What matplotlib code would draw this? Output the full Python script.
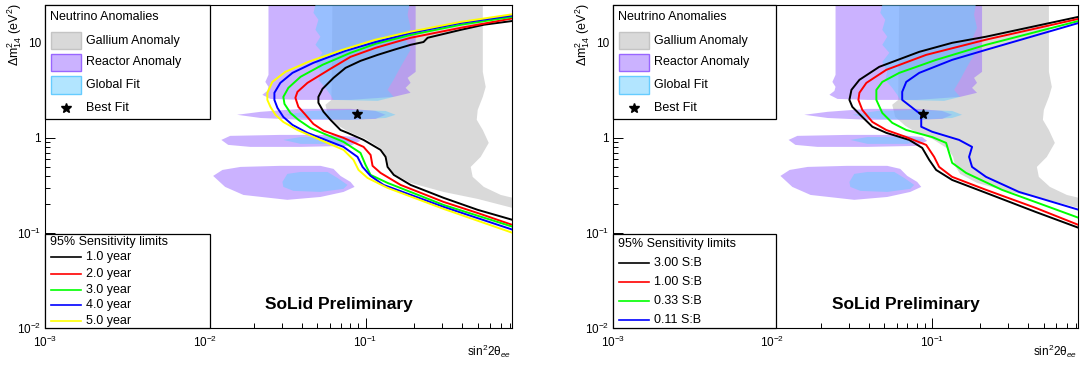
import numpy as np
import matplotlib
matplotlib.use("Agg")
import matplotlib.pyplot as plt
from matplotlib.patches import Polygon, Rectangle
from matplotlib.lines import Line2D
from matplotlib.ticker import FixedLocator, FixedFormatter, LogLocator, NullFormatter

plt.rcParams['font.family'] = ['Liberation Sans', 'DejaVu Sans']
plt.rcParams['mathtext.fontset'] = 'custom'
plt.rcParams['mathtext.rm'] = 'Liberation Sans'
plt.rcParams['mathtext.it'] = 'Liberation Sans:italic'
plt.rcParams['mathtext.bf'] = 'Liberation Sans:bold'
plt.rcParams['mathtext.sf'] = 'Liberation Sans'

# ------------------------------------------------------------------ data
X_MIN, X_MAX = 1e-3, 0.82
Y_MIN, Y_MAX = 1e-2, 25.0

x_tick_vals = [1e-3, 1e-2, 1e-1]
x_tick_labels = [r'$10^{-3}$', r'$10^{-2}$', r'$10^{-1}$']
y_tick_vals = [1e-2, 1e-1, 1.0, 10.0]
y_tick_labels = [r'$10^{-2}$', r'$10^{-1}$', '1', '10']

# Gallium anomaly region
gallium_x = [0.0622, 0.539, 0.539, 0.562, 0.539, 0.501, 0.494, 0.539, 0.587, 0.523, 0.453, 0.466, 0.547, 0.698,
             0.83, 1.0, 1.0, 0.83, 0.501, 0.307, 0.191, 0.1496, 0.1393, 0.1353, 0.1259, 0.1, 0.0783, 0.0678,
             0.0587, 0.0562, 0.0613]
gallium_y = [30, 30, 4.95, 3.44, 2.70, 1.97, 1.55, 1.21, 0.886, 0.631, 0.495, 0.389, 0.305, 0.251,
             0.234, 0.23, 0.18, 0.183, 0.228, 0.270, 0.336, 0.418, 0.508, 0.631, 0.766, 0.976, 1.16, 1.34,
             1.66, 2.23, 2.51]

# Reactor anomaly regions
reactor_top_x = [0.0248, 0.0248, 0.0237, 0.0248, 0.0244, 0.0227, 0.0255, 0.0393, 0.0806, 0.1496, 0.191,
                 0.1778, 0.191, 0.183, 0.2054, 0.2054]
reactor_top_y = [30, 4.60, 3.88, 3.44, 3.12, 2.84, 2.57, 2.51, 2.51, 2.70, 2.98, 3.36, 3.79, 4.28, 4.95, 30]
reactor_b1_x = [0.0158, 0.0221, 0.0393, 0.0806, 0.1155, 0.1334, 0.1155, 0.0806, 0.0393, 0.0221]
reactor_b1_y = [1.75, 1.88, 2.02, 2.02, 1.92, 1.75, 1.585, 1.55, 1.55, 1.62]
reactor_b2_x = [0.0126, 0.0143, 0.0294, 0.0604, 0.0866, 0.093, 0.0806, 0.0393, 0.0191, 0.0139]
reactor_b2_y = [0.952, 1.05, 1.075, 1.075, 1.02, 0.930, 0.824, 0.804, 0.804, 0.844]
reactor_b3_x = [0.0112, 0.0128, 0.0166, 0.0294, 0.0523, 0.0631, 0.0698, 0.0806, 0.0854, 0.0729, 0.0523,
                0.0325, 0.0173, 0.0133]
reactor_b3_y = [0.398, 0.460, 0.495, 0.508, 0.508, 0.472, 0.398, 0.344, 0.305, 0.270, 0.239, 0.223, 0.251, 0.305]

# Global fit regions
global_top_x = [0.0487, 0.0487, 0.0473, 0.0508, 0.0487, 0.0523, 0.0487, 0.0539, 0.0487, 0.0523, 0.0508,
                0.0562, 0.0604, 0.0631, 0.1189, 0.1496, 0.1372, 0.1496, 0.1655, 0.191, 0.1778, 0.191, 0.183, 0.191]
global_top_y = [30, 25, 20.7, 17.5, 13.7, 11.6, 9.53, 7.85, 6.31, 4.95, 4.08, 3.36, 2.84, 2.51, 2.45, 2.70,
                3.20, 4.08, 5.59, 8.44, 10.8, 14.4, 19.7, 30]
global_b1_x = [0.0316, 0.0453, 0.0806, 0.1334, 0.1539, 0.1334, 0.0806, 0.0453]
global_b1_y = [1.75, 1.92, 1.97, 1.92, 1.75, 1.62, 1.55, 1.585]
global_b2_x = [0.0307, 0.0393, 0.0698, 0.0891, 0.0698, 0.0393]
global_b2_y = [0.952, 1.02, 1.02, 0.952, 0.865, 0.865]
global_b3_x = [0.0303, 0.0325, 0.0393, 0.0579, 0.0668, 0.0772, 0.0729, 0.0523, 0.0355, 0.0307]
global_b3_y = [0.344, 0.418, 0.438, 0.438, 0.379, 0.320, 0.291, 0.270, 0.277, 0.305]

best_fit_x = [0.088]
best_fit_y = [1.79]

# Left panel: sensitivity vs exposure
year_labels = ['1.0 year', '2.0 year', '3.0 year', '4.0 year', '5.0 year']
year_colors = ['#000000', '#ff0000', '#00ff00', '#0000ff', '#ffff00']
y1_x = [0.83, 0.547, 0.393, 0.244, 0.230, 0.191, 0.150, 0.119, 0.093, 0.075, 0.0631, 0.0539, 0.0508, 0.0508,
        0.0547, 0.0604, 0.0698, 0.0772, 0.0972, 0.124, 0.1334, 0.1372, 0.150, 0.191, 0.307, 0.501, 0.83]
y1_y = [17.0, 15.5, 13.7, 11.3, 10.2, 9.53, 8.44, 7.47, 6.46, 5.45, 4.28, 3.28, 2.70, 2.34,
        1.88, 1.55, 1.21, 1.13, 0.952, 0.748, 0.631, 0.495, 0.408, 0.320, 0.234, 0.175, 0.137]
y2_x = [0.83, 0.393, 0.191, 0.1155, 0.0806, 0.0604, 0.0434, 0.0376, 0.0365, 0.0381, 0.0422, 0.0473, 0.0547,
        0.0729, 0.0972, 0.1075, 0.1106, 0.1241, 0.1655, 0.307, 0.501, 0.83]
y2_y = [18.1, 14.4, 11.3, 8.86, 7.12, 5.33, 3.79, 3.05, 2.64, 2.12, 1.75, 1.40, 1.19,
        1.0, 0.804, 0.662, 0.508, 0.428, 0.320, 0.212, 0.162, 0.121]
y3_x = [0.83, 0.393, 0.191, 0.1155, 0.0806, 0.0539, 0.0393, 0.033, 0.0307, 0.0312, 0.034, 0.0381, 0.0453,
        0.0729, 0.093, 0.1, 0.1075, 0.1372, 0.307, 0.83]
y3_y = [18.8, 15.5, 12.1, 9.76, 7.85, 5.87, 4.39, 3.36, 2.70, 2.28, 1.83, 1.55, 1.27,
        0.908, 0.695, 0.520, 0.408, 0.336, 0.197, 0.116]
y4_x = [0.83, 0.393, 0.191, 0.1155, 0.075, 0.0473, 0.035, 0.0294, 0.027, 0.027, 0.0282, 0.0307, 0.035, 0.0434,
        0.0729, 0.0891, 0.0958, 0.1075, 0.1296, 0.307, 0.83]
y4_y = [19.4, 16.2, 12.7, 10.2, 8.24, 6.16, 4.83, 3.79, 2.98, 2.51, 2.07, 1.66, 1.37, 1.13,
        0.804, 0.631, 0.495, 0.398, 0.320, 0.188, 0.108]
y5_x = [0.83, 0.393, 0.191, 0.1155, 0.0718, 0.0440, 0.0316, 0.0262, 0.0244, 0.0244, 0.0255, 0.0274, 0.0307,
        0.0376, 0.0523, 0.0729, 0.0841, 0.0904, 0.1029, 0.1372, 0.307, 0.83]
y5_y = [20.0, 16.6, 13.1, 10.8, 8.44, 6.31, 4.95, 3.88, 2.98, 2.51, 2.12, 1.75, 1.47,
        1.21, 0.952, 0.748, 0.587, 0.460, 0.379, 0.298, 0.179, 0.100]

# Right panel: sensitivity vs signal-to-background
sb_labels = ['3.00 S:B', '1.00 S:B', '0.33 S:B', '0.11 S:B']
sb_colors = ['#000000', '#ff0000', '#00ff00', '#0000ff']
sb300_x = [0.83, 0.2175, 0.1334, 0.083, 0.0466, 0.035, 0.0312, 0.0303, 0.0316, 0.0365, 0.0422, 0.0516, 0.0718,
           0.0866, 0.0958, 0.1059, 0.1334, 0.2175, 0.4467, 0.83]
sb300_y = [18.8, 11.6, 10.0, 8.04, 5.59, 4.08, 3.20, 2.51, 2.12, 1.66, 1.31, 1.13, 0.952,
           0.785, 0.587, 0.460, 0.361, 0.264, 0.166, 0.113]
sb100_x = [0.83, 0.2175, 0.0917, 0.0516, 0.0387, 0.035, 0.0345, 0.0365, 0.0422, 0.0516, 0.0688, 0.0917,
           0.1029, 0.1106, 0.1334, 0.2175, 0.4467, 0.83]
sb100_y = [17.9, 10.8, 7.47, 5.20, 3.79, 2.98, 2.51, 1.97, 1.47, 1.21, 1.02, 0.844,
           0.631, 0.495, 0.389, 0.284, 0.183, 0.121]
sb033_x = [0.83, 0.2175, 0.1059, 0.0622, 0.0487, 0.0447, 0.0447, 0.0487, 0.0562, 0.0688, 0.1, 0.1223,
           0.1277, 0.1334, 0.1631, 0.2738, 0.562, 0.83]
sb033_y = [17.0, 9.53, 6.62, 4.83, 3.88, 3.20, 2.51, 1.83, 1.44, 1.21, 1.02, 0.886,
           0.695, 0.546, 0.428, 0.284, 0.183, 0.144]
sb011_x = [0.83, 0.2175, 0.1334, 0.083, 0.0688, 0.0649, 0.0649, 0.0739, 0.0854, 0.0854, 0.1, 0.1475,
           0.1778, 0.1703, 0.1778, 0.2175, 0.3499, 0.83]
sb011_y = [16.2, 8.44, 6.62, 4.83, 3.88, 3.05, 2.51, 2.12, 1.75, 1.31, 1.16, 0.952,
           0.804, 0.631, 0.495, 0.389, 0.270, 0.175]

# ------------------------------------------------------------------ style
GALLIUM_FACE = '#d9d9d9'
REACTOR_RGBA = (0.6, 0.4, 1.0, 0.5)
GLOBAL_RGBA = (0.4, 0.8, 1.0, 0.5)

W, H = 1081, 365
fig = plt.figure(figsize=(W / 100, H / 100), dpi=100)


def fx(px):
    return px / W


def fy(py):
    return 1 - py / H


ax_l = fig.add_axes([fx(45), fy(328), (512 - 45) / W, (328 - 5) / H])
ax_r = fig.add_axes([fx(613), fy(328), (1078 - 613) / W, (328 - 5) / H])


def draw_regions(ax):
    ax.add_patch(Polygon(np.column_stack([gallium_x, gallium_y]), closed=True,
                         facecolor=GALLIUM_FACE, edgecolor='none', zorder=1))
    for xs, ys in [(reactor_top_x, reactor_top_y), (reactor_b1_x, reactor_b1_y),
                   (reactor_b2_x, reactor_b2_y), (reactor_b3_x, reactor_b3_y)]:
        ax.add_patch(Polygon(np.column_stack([xs, ys]), closed=True,
                             facecolor=REACTOR_RGBA, edgecolor='none', zorder=2))
    for xs, ys in [(global_top_x, global_top_y), (global_b1_x, global_b1_y),
                   (global_b2_x, global_b2_y), (global_b3_x, global_b3_y)]:
        ax.add_patch(Polygon(np.column_stack([xs, ys]), closed=True,
                             facecolor=GLOBAL_RGBA, edgecolor='none', zorder=3))


def style_axes(ax):
    ax.set_xscale('log')
    ax.set_yscale('log')
    ax.set_xlim(X_MIN, X_MAX)
    ax.set_ylim(Y_MIN, Y_MAX)
    ax.xaxis.set_major_locator(FixedLocator(x_tick_vals))
    ax.xaxis.set_major_formatter(FixedFormatter(x_tick_labels))
    ax.yaxis.set_major_locator(FixedLocator(y_tick_vals))
    ax.yaxis.set_major_formatter(FixedFormatter(y_tick_labels))
    for axis in (ax.xaxis, ax.yaxis):
        axis.set_minor_locator(LogLocator(base=10, subs=np.arange(2, 10), numticks=50))
        axis.set_minor_formatter(NullFormatter())
    ax.tick_params(which='both', direction='in', top=False, right=False, labelsize=8.5,
                   width=0.7, colors='black')
    ax.tick_params(axis='x', which='both', pad=5)
    ax.tick_params(axis='y', which='both', pad=3)
    ax.tick_params(which='major', length=7)
    ax.tick_params(which='minor', length=3.5)
    for lbl in ax.get_yticklabels():
        lbl.set_verticalalignment('center_baseline')
    for s in ax.spines.values():
        s.set_linewidth(0.8)
    ax.text(-0.066, 1.005, r'Δm$^{2}_{14}$ (eV$^{2}$)', transform=ax.transAxes, rotation=90,
            ha='center', va='top', fontsize=9)
    ax.text(0.998, -0.072, r'sin$^{2}$2θ$_{ee}$', transform=ax.transAxes,
            ha='right', va='center', fontsize=8.5)
    ax.text(0.63, 0.074, 'SoLid Preliminary', transform=ax.transAxes, ha='center', va='center',
            fontsize=12.5, fontweight='bold')


for ax in (ax_l, ax_r):
    draw_regions(ax)
    ax.plot(best_fit_x, best_fit_y, ls='none', marker='*', ms=7, color='black', zorder=6)
    style_axes(ax)

left_curves = [(y1_x, y1_y), (y2_x, y2_y), (y3_x, y3_y), (y4_x, y4_y), (y5_x, y5_y)]
for (xs, ys), c in zip(left_curves, year_colors):
    ax_l.plot(xs, ys, color=c, lw=1.4, zorder=4, solid_joinstyle='round')

right_curves = [(sb300_x, sb300_y), (sb100_x, sb100_y), (sb033_x, sb033_y), (sb011_x, sb011_y)]
for (xs, ys), c in zip(right_curves, sb_colors):
    ax_r.plot(xs, ys, color=c, lw=1.4, zorder=4, solid_joinstyle='round')


# ------------------------------------------------------------------ legends
def box(x0, y0, x1, y1):
    fig.add_artist(Rectangle((fx(x0), fy(y1)), fx(x1) - fx(x0), fy(y0) - fy(y1),
                             transform=fig.transFigure, facecolor='white', edgecolor='black',
                             lw=0.9, zorder=5))


def ftext(px, py, s, size=9):
    fig.text(fx(px), fy(py), s, ha='left', va='center', fontsize=size, zorder=6)


def anomaly_legend(off):
    box(45 + off, 5, 210 + off - (2 if off else 0), 119)
    ftext(49.5 + off, 16.7, 'Neutrino Anomalies')
    entries = [('Gallium Anomaly', GALLIUM_FACE, '#c4c4c4', 40.7),
               ('Reactor Anomaly', REACTOR_RGBA, '#9966ff', 62.3),
               ('Global Fit', GLOBAL_RGBA, '#66ccff', 85.0)]
    for label, face, edge, yc in entries:
        fig.add_artist(Rectangle((fx(51 + off), fy(yc + 8.5)), fx(30), 17 / H,
                                 transform=fig.transFigure, facecolor=face, edgecolor=edge,
                                 lw=1.0, zorder=6))
        ftext(86.5 + off, yc, label)
    fig.add_artist(Line2D([fx(65.7 + off)], [fy(108.3)], transform=fig.transFigure, ls='none',
                          marker='*', ms=7, color='black', zorder=6))
    ftext(86.5 + off, 108.3, 'Best Fit')


def sens_legend(off, labels, colors, rows, title_y):
    box(45 + off, 234, 210 + off - (2 if off else 0), 328)
    ftext(49.5 + off, title_y, '95% Sensitivity limits')
    for label, c, yc in zip(labels, colors, rows):
        fig.add_artist(Line2D([fx(51 + off), fx(81 + off)], [fy(yc), fy(yc)],
                              transform=fig.transFigure, color=c, lw=1.2, zorder=6))
        ftext(86.5 + off, yc, label)


anomaly_legend(0)
anomaly_legend(568)
sens_legend(0, year_labels, year_colors, [257.3, 274.0, 289.5, 305.0, 321.0], 241.7)
sens_legend(568, sb_labels, sb_colors, [262.7, 281.7, 300.7, 320.0], 244.0)

fig.savefig('out.png', dpi=100)
